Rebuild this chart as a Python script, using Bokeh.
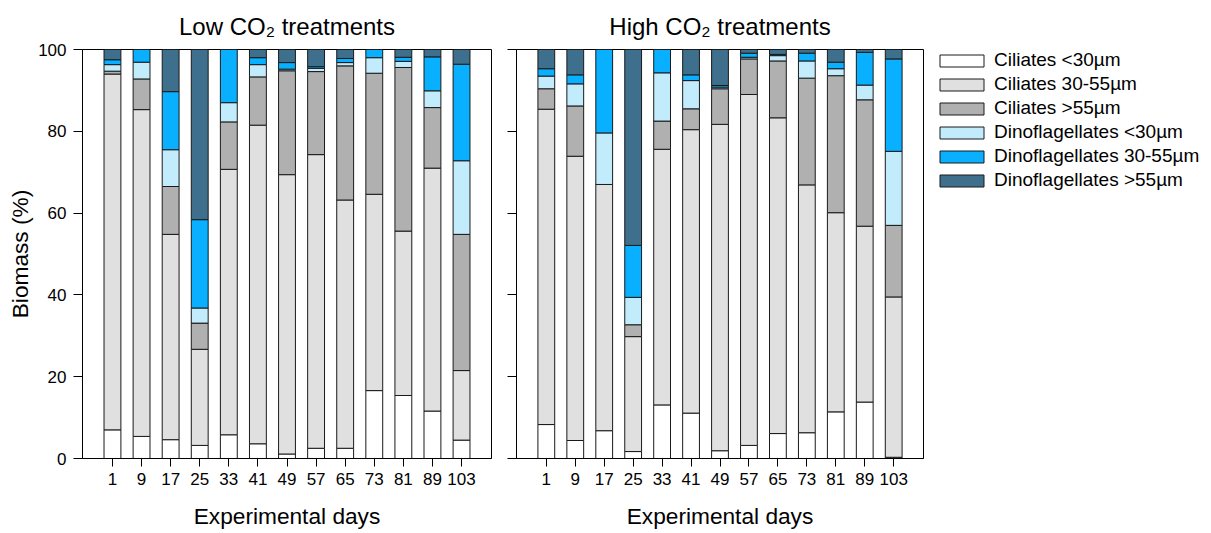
from bokeh.plotting import figure
from bokeh.models import FixedTicker, Legend, LegendItem, ColumnDataSource, Range1d
from bokeh.layouts import row
from bokeh.embed import file_html
from bokeh.resources import INLINE

days = ["1", "9", "17", "25", "33", "41", "49", "57", "65", "73", "81", "89", "103"]
groups = ["Ciliates <30µm", "Ciliates 30-55µm", "Ciliates >55µm",
          "Dinoflagellates <30µm", "Dinoflagellates 30-55µm", "Dinoflagellates >55µm"]
colors = ["#FFFFFF", "#E0E0E0", "#B0B0B0", "#C2EBFC", "#08B0FF", "#3E6F8C"]

# Low CO2 treatments (% biomass)
low_cil_lt30 = [7.0, 5.4, 4.6, 3.2, 5.8, 3.6, 1.1, 2.5, 2.5, 16.6, 15.4, 11.6, 4.5]
low_cil_30_55 = [87.0, 79.9, 50.2, 23.5, 64.9, 77.9, 68.3, 71.8, 60.7, 48.0, 40.2, 59.4, 17.0]
low_cil_gt55 = [0.7, 7.5, 11.7, 6.4, 11.6, 11.8, 25.4, 20.3, 32.8, 29.6, 40.0, 14.8, 33.3]
low_din_lt30 = [1.6, 4.1, 9.0, 3.7, 4.7, 3.0, 0.4, 0.8, 0.8, 3.8, 1.5, 4.1, 18.0]
low_din_30_55 = [1.2, 3.1, 14.2, 21.6, 13.0, 1.7, 1.6, 0.4, 1.0, 2.0, 1.0, 8.3, 23.6]
low_din_gt55 = [2.5, 0.0, 10.3, 41.6, 0.0, 2.0, 3.2, 4.2, 2.2, 0.0, 1.9, 1.8, 3.6]

# High CO2 treatments (% biomass)
high_cil_lt30 = [8.3, 4.4, 6.8, 1.7, 13.1, 11.1, 1.9, 3.2, 6.1, 6.3, 11.4, 13.8, 0.3]
high_cil_30_55 = [77.1, 69.5, 60.2, 28.1, 62.5, 69.3, 79.8, 85.8, 77.2, 60.6, 48.7, 43.0, 39.2]
high_cil_gt55 = [5.0, 12.3, 0.0, 2.9, 6.9, 5.1, 8.7, 8.7, 13.9, 26.1, 33.5, 30.9, 17.5]
high_din_lt30 = [3.1, 5.4, 12.6, 6.7, 11.8, 6.9, 0.4, 0.4, 1.3, 4.2, 1.7, 3.6, 18.1]
high_din_30_55 = [1.8, 2.2, 20.4, 12.7, 5.7, 1.4, 0.4, 1.0, 0.3, 1.9, 1.6, 8.0, 22.6]
high_din_gt55 = [4.7, 6.2, 0.0, 47.9, 0.0, 6.2, 8.8, 0.9, 1.2, 0.9, 3.1, 0.7, 2.3]

y_ticks = [0, 20, 40, 60, 80, 100]
FONT = "Liberation Sans"
keys = ["s0", "s1", "s2", "s3", "s4", "s5"]
xpos = list(range(len(days)))


def make_panel(title, series, width, left, right, show_ylabels):
    src = ColumnDataSource(dict(x=xpos, **{k: v for k, v in zip(keys, series)}))
    p = figure(width=width, height=533, x_range=Range1d(-1.03, 13.03), y_range=Range1d(0, 100),
               toolbar_location=None, output_backend="svg",
               min_border_left=left, min_border_right=right, min_border_top=49, min_border_bottom=75)
    p.vbar_stack(keys, x="x", width=0.58, source=src, fill_color=colors,
                 line_color="#1a1a1a", line_width=1)
    p.title.text = title
    p.title.align = "center"
    p.title.text_font = FONT
    p.title.text_font_size = "24px"
    p.title.text_font_style = "normal"
    p.title.text_color = "black"
    p.title.standoff = 19
    p.grid.visible = False
    p.outline_line_color = "black"
    p.outline_line_width = 1
    for ax in (p.xaxis[0], p.yaxis[0]):
        ax.axis_line_color = "black"
        ax.major_tick_line_color = "black"
        ax.minor_tick_line_color = None
        ax.major_tick_in = 0
        ax.major_tick_out = 8
        ax.major_label_text_font = FONT
        ax.major_label_text_font_size = "17px"
        ax.major_label_text_color = "black"
        ax.axis_label_text_font = FONT
        ax.axis_label_text_font_size = "22.7px"
        ax.axis_label_text_font_style = "normal"
        ax.axis_label_text_color = "black"
    p.xaxis.ticker = FixedTicker(ticks=xpos)
    p.xaxis.major_label_overrides = {i: d for i, d in enumerate(days)}
    p.xaxis.axis_label = "Experimental days"
    p.xaxis.major_label_standoff = 6
    p.xaxis.axis_label_standoff = 15
    p.yaxis.ticker = FixedTicker(ticks=y_ticks)
    p.yaxis.major_tick_out = 9
    if show_ylabels:
        p.yaxis.axis_label = "Biomass (%)"
        p.yaxis.major_label_standoff = 7
        p.yaxis.axis_label_standoff = 2
    else:
        p.yaxis.major_label_text_font_size = "1px"
        p.yaxis.major_label_text_color = None
        p.yaxis.major_label_standoff = 0
    return p


p1 = make_panel("Low CO₂ treatments",
                [low_cil_lt30, low_cil_30_55, low_cil_gt55, low_din_lt30, low_din_30_55, low_din_gt55],
                496, 82, 5, True)
p2 = make_panel("High CO₂ treatments",
                [high_cil_lt30, high_cil_30_55, high_cil_gt55, high_din_lt30, high_din_30_55, high_din_gt55],
                428, 20, 1, False)

p3 = figure(width=280, height=533, x_range=Range1d(0, 1), y_range=Range1d(0, 1),
            x_axis_type=None, y_axis_type=None, toolbar_location=None, output_backend="svg",
            min_border_left=10, min_border_right=0, min_border_top=49, min_border_bottom=75)
p3.outline_line_color = None
items = []
for g, c in zip(groups, colors):
    r = p3.vbar(x=[5], top=[1], width=0.5, fill_color=c, line_color="#1a1a1a", line_width=1)
    items.append(LegendItem(label=g, renderers=[r]))
legend = Legend(items=items, location="top_left", margin=0, padding=0,
                glyph_width=55, glyph_height=15, label_standoff=5,
                label_height=21, spacing=2,
                label_text_font=FONT, label_text_font_size="19px", label_text_color="black",
                border_line_alpha=0, background_fill_alpha=0)
p3.add_layout(legend)

layout = row(p1, p2, p3)
open("out.html", "w").write(file_html(layout, INLINE))
